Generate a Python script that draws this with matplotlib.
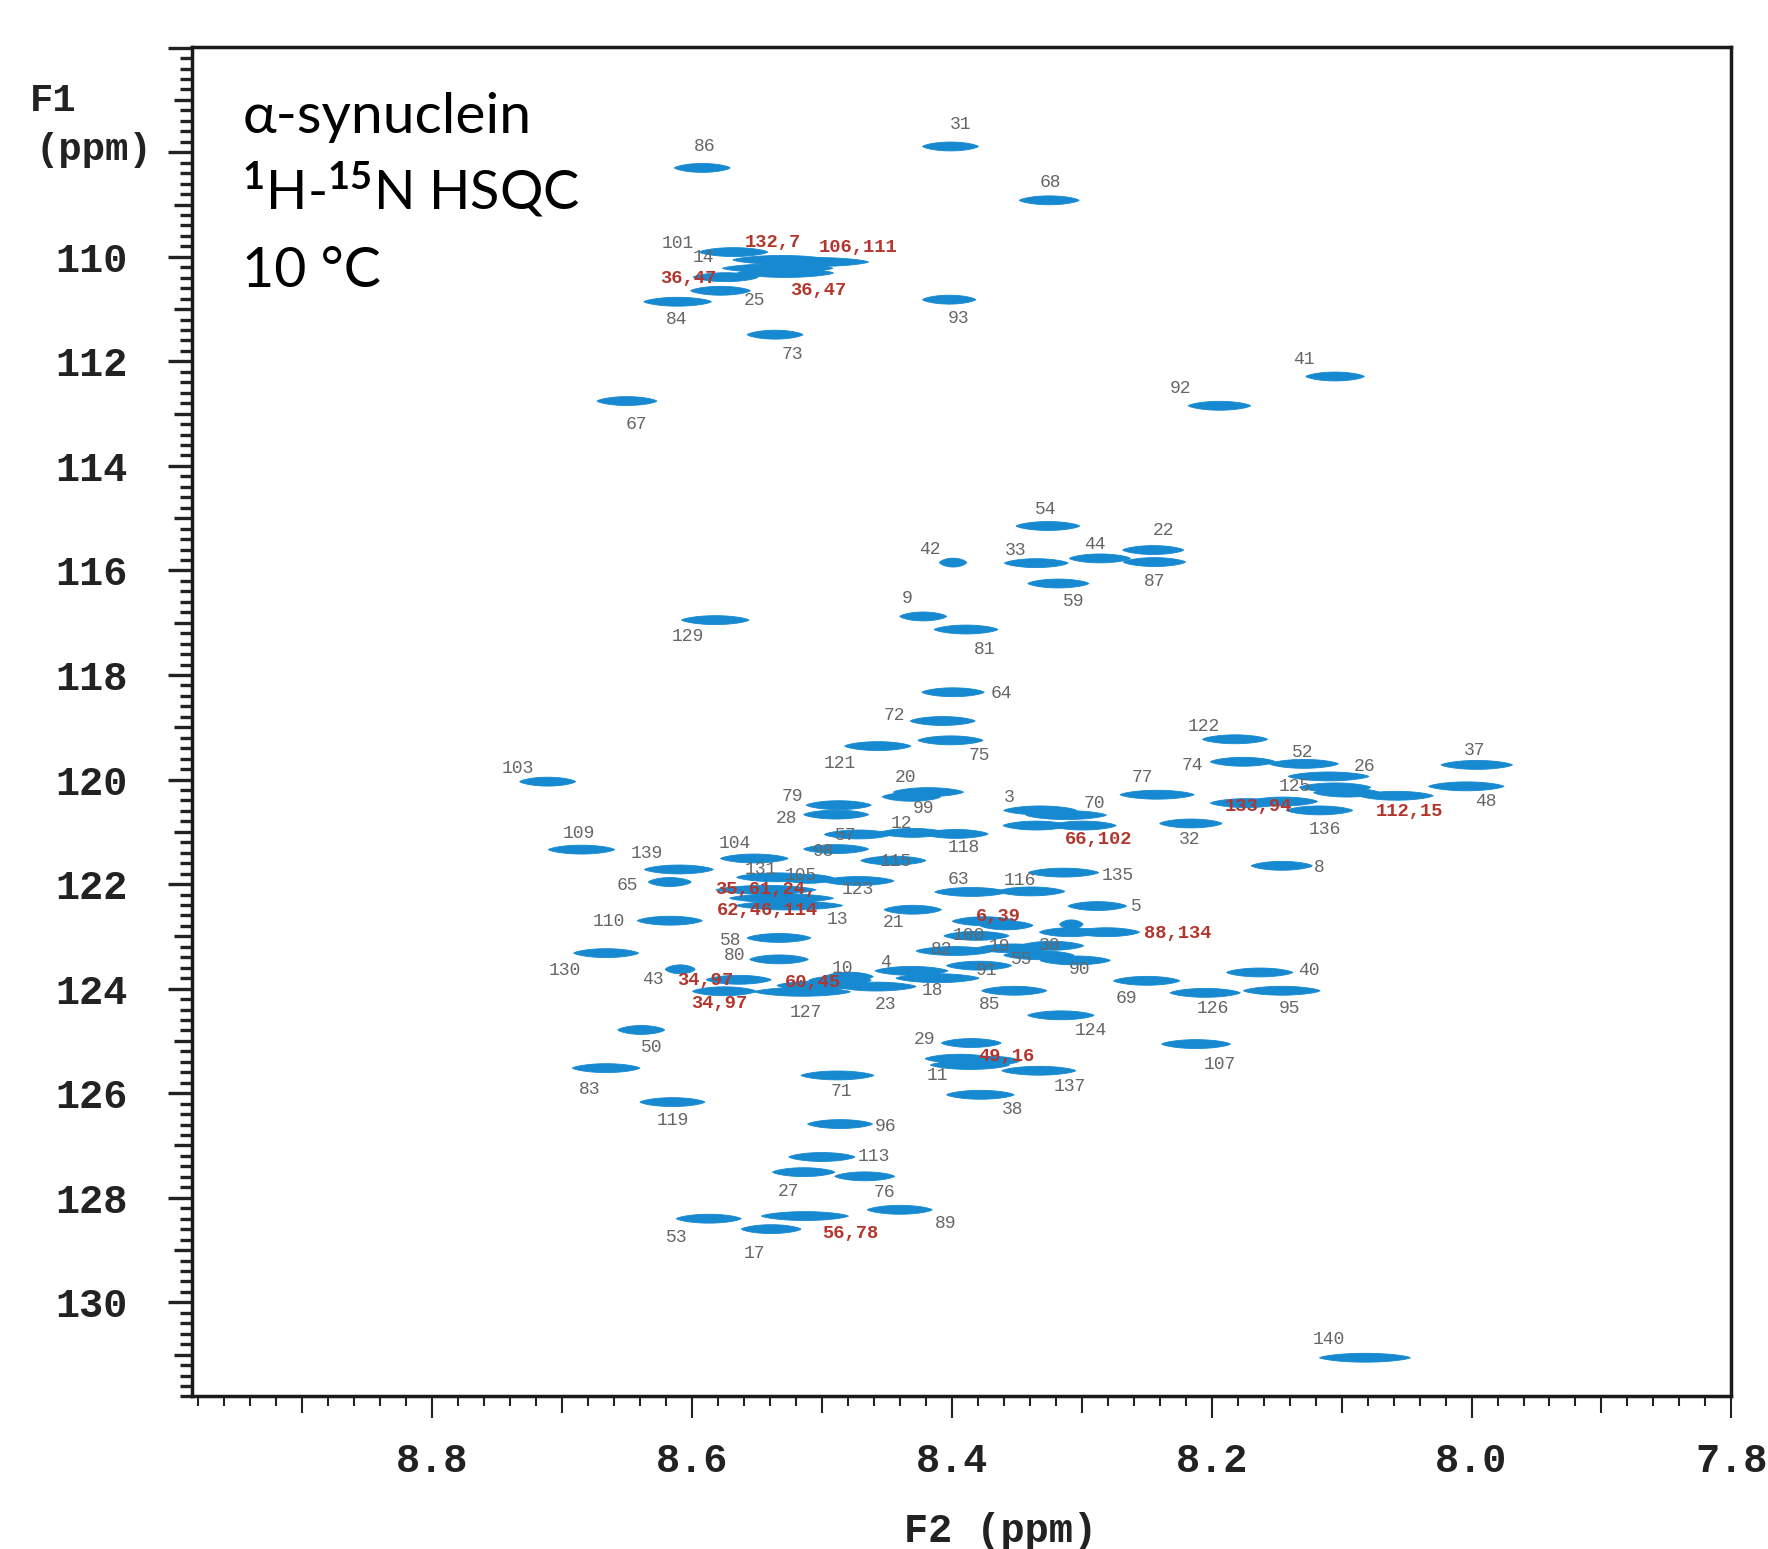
import numpy as np
import matplotlib
matplotlib.use('Agg')
import matplotlib.pyplot as plt
from matplotlib.collections import PolyCollection
from matplotlib.ticker import FixedLocator, FixedFormatter, NullLocator

# ---------------- data: peak positions (1H ppm, 15N ppm) and 1H linewidths (ppm)
peak_h = [8.592, 8.401, 8.325, 8.568, 8.531, 8.504, 8.534, 8.528, 8.574, 8.578,
          8.611, 8.536, 8.402, 8.105, 8.194, 8.650, 8.326, 8.399, 8.335, 8.286,
          8.245, 8.244, 8.318, 8.422, 8.389, 8.582, 8.399, 8.407, 8.401, 8.457,
          8.711, 8.418, 8.431, 8.487, 8.489, 8.472, 8.430, 8.397, 8.489, 8.445,
          8.685, 8.610, 8.617, 8.552, 8.535, 8.510, 8.472, 8.543, 8.531, 8.525,
          8.385, 8.339, 8.314, 8.332, 8.312, 8.335, 8.299, 8.242, 8.216, 8.182,
          8.176, 8.129, 8.110, 8.105, 8.096, 8.058, 8.173, 8.145, 8.117, 8.146,
          7.996, 8.004, 8.288, 8.309, 8.281, 8.308, 8.430, 8.375, 8.358, 8.381,
          8.398, 8.353, 8.323, 8.333, 8.305, 8.379, 8.431, 8.411, 8.479, 8.458,
          8.504, 8.486, 8.515, 8.575, 8.564, 8.609, 8.533, 8.533, 8.617, 8.666,
          8.352, 8.250, 8.205, 8.163, 8.146, 8.316, 8.212, 8.639, 8.385, 8.394,
          8.386, 8.369, 8.333, 8.378, 8.666, 8.615, 8.488, 8.486, 8.500, 8.514,
          8.467, 8.440, 8.513, 8.587, 8.539, 8.082]
peak_n = [108.30, 107.89, 108.92, 109.91, 110.06, 110.10, 110.22, 110.31, 110.39, 110.65,
          110.86, 111.49, 110.82, 112.29, 112.85, 112.76, 115.15, 115.85, 115.86, 115.77,
          115.61, 115.84, 116.25, 116.88, 117.13, 116.95, 118.33, 118.88, 119.25, 119.36,
          120.04, 120.24, 120.33, 120.49, 120.67, 121.05, 121.02, 121.04, 121.33, 121.55,
          121.34, 121.72, 121.96, 121.51, 121.87, 121.90, 121.94, 122.11, 122.27, 122.41,
          122.15, 122.14, 121.78, 120.59, 120.68, 120.88, 120.88, 120.29, 120.84, 119.23,
          119.66, 119.70, 119.94, 120.15, 120.25, 120.31, 120.45, 120.42, 120.59, 121.65,
          119.72, 120.13, 122.42, 122.92, 122.92, 122.77, 122.49, 122.71, 122.79, 122.99,
          123.28, 123.23, 123.18, 123.36, 123.46, 123.56, 123.66, 123.80, 123.77, 123.96,
          123.94, 123.84, 124.06, 124.05, 123.83, 123.63, 123.03, 123.44, 122.70, 123.32,
          124.04, 123.85, 124.08, 123.69, 124.04, 124.51, 125.06, 124.79, 125.04, 125.34,
          125.46, 125.38, 125.57, 126.03, 125.52, 126.17, 125.66, 126.59, 127.22, 127.51,
          127.59, 128.23, 128.35, 128.40, 128.60, 131.06]
peak_lw = [0.043, 0.043, 0.046, 0.053, 0.075, 0.080, 0.085, 0.074, 0.050, 0.046,
           0.052, 0.043, 0.041, 0.045, 0.048, 0.046, 0.049, 0.021, 0.049, 0.047,
           0.047, 0.048, 0.047, 0.036, 0.049, 0.052, 0.048, 0.050, 0.050, 0.051,
           0.043, 0.054, 0.045, 0.050, 0.050, 0.052, 0.052, 0.050, 0.050, 0.050,
           0.051, 0.053, 0.033, 0.052, 0.061, 0.041, 0.055, 0.077, 0.080, 0.082,
           0.056, 0.052, 0.054, 0.056, 0.062, 0.051, 0.051, 0.057, 0.048, 0.050,
           0.050, 0.053, 0.062, 0.055, 0.051, 0.057, 0.056, 0.053, 0.051, 0.047,
           0.055, 0.058, 0.045, 0.047, 0.051, 0.018, 0.044, 0.049, 0.041, 0.050,
           0.059, 0.056, 0.049, 0.054, 0.054, 0.050, 0.056, 0.064, 0.037, 0.061,
           0.061, 0.048, 0.074, 0.049, 0.050, 0.023, 0.049, 0.045, 0.050, 0.050,
           0.050, 0.051, 0.054, 0.051, 0.059, 0.051, 0.053, 0.036, 0.046, 0.053,
           0.061, 0.043, 0.057, 0.052, 0.052, 0.050, 0.056, 0.050, 0.051, 0.048,
           0.046, 0.050, 0.067, 0.050, 0.046, 0.070]

# ---------------- data: residue assignments (text, 1H ppm, 15N ppm); red = overlapped
label_text = ['86', '31', '68', '101', '132,7', '106,111', '14', '36,47', '36,47', '25',
              '84', '73', '93', '41', '92', '67', '54', '42', '33', '44',
              '22', '87', '59', '9', '81', '129', '64', '72', '75', '121',
              '103', '20', '99', '79', '28', '12', '57', '98', '115', '118',
              '109', '139', '65', '104', '131', '105', '123', '35,61,24,', '62,46,114', '13',
              '63', '116', '135', '3', '70', '66,102', '77', '32', '122', '74',
              '52', '26', '125', '112,15', '133,94', '136', '8', '37', '48', '5',
              '88,134', '21', '6,39', '100', '82', '19', '30', '55', '90', '91',
              '4', '18', '10', '23', '60,45', '127', '34,97', '34,97', '43', '58',
              '80', '110', '130', '85', '69', '126', '40', '95', '124', '107',
              '50', '29', '49,16', '11', '137', '38', '83', '119', '71', '96',
              '113', '27', '76', '89', '56,78', '53', '17', '140']
label_h = [8.590, 8.393, 8.324, 8.611, 8.538, 8.472, 8.591, 8.603, 8.503, 8.552,
           8.612, 8.523, 8.395, 8.129, 8.224, 8.643, 8.328, 8.417, 8.351, 8.290,
           8.237, 8.244, 8.306, 8.434, 8.375, 8.603, 8.362, 8.444, 8.379, 8.486,
           8.734, 8.436, 8.422, 8.523, 8.527, 8.439, 8.482, 8.499, 8.443, 8.391,
           8.687, 8.635, 8.650, 8.567, 8.547, 8.516, 8.472, 8.543, 8.542, 8.488,
           8.395, 8.348, 8.272, 8.356, 8.290, 8.287, 8.253, 8.217, 8.206, 8.215,
           8.130, 8.082, 8.136, 8.048, 8.164, 8.113, 8.117, 7.998, 7.989, 8.258,
           8.226, 8.445, 8.364, 8.387, 8.408, 8.363, 8.325, 8.346, 8.302, 8.373,
           8.451, 8.415, 8.484, 8.451, 8.507, 8.512, 8.590, 8.579, 8.630, 8.570,
           8.567, 8.664, 8.698, 8.371, 8.266, 8.199, 8.125, 8.140, 8.293, 8.194,
           8.631, 8.421, 8.358, 8.411, 8.309, 8.353, 8.679, 8.615, 8.485, 8.451,
           8.460, 8.526, 8.452, 8.405, 8.478, 8.612, 8.552, 8.110]
label_n = [107.89, 107.47, 108.58, 109.74, 109.72, 109.83, 110.02, 110.42, 110.64, 110.84,
           111.20, 111.86, 111.18, 111.96, 112.52, 113.21, 114.83, 115.59, 115.62, 115.51,
           115.23, 116.21, 116.59, 116.54, 117.52, 117.27, 118.36, 118.78, 119.54, 119.69,
           119.78, 119.96, 120.56, 120.32, 120.74, 120.84, 121.07, 121.38, 121.57, 121.30,
           121.04, 121.41, 122.03, 121.23, 121.72, 121.83, 122.10, 122.10, 122.51, 122.68,
           121.92, 121.94, 121.84, 120.34, 120.46, 121.14, 119.96, 121.15, 118.98, 119.74,
           119.49, 119.75, 120.14, 120.61, 120.52, 120.95, 121.69, 119.45, 120.42, 122.42,
           122.94, 122.74, 122.62, 122.99, 123.25, 123.19, 123.18, 123.44, 123.64, 123.66,
           123.50, 124.04, 123.61, 124.31, 123.88, 124.46, 123.85, 124.28, 123.82, 123.07,
           123.37, 122.72, 123.65, 124.30, 124.19, 124.37, 123.66, 124.37, 124.80, 125.45,
           125.13, 124.98, 125.29, 125.66, 125.87, 126.31, 125.92, 126.52, 125.97, 126.64,
           127.21, 127.88, 127.90, 128.49, 128.69, 128.76, 129.06, 130.71]
label_red = [',' in t for t in label_text]

x_major = [8.8, 8.6, 8.4, 8.2, 8.0, 7.8]
x_major_labels = ['8.8', '8.6', '8.4', '8.2', '8.0', '7.8']
y_major = [106, 108, 110, 112, 114, 116, 118, 120, 122, 124, 126, 128, 130]
y_major_labels = ['', '', '110', '112', '114', '116', '118', '120', '122', '124',
                  '126', '128', '130']

# ---------------- styling
plt.rcParams['font.family'] = ['Liberation Mono', 'DejaVu Sans']
plt.rcParams['font.weight'] = 'bold'
plt.rcParams['mathtext.fontset'] = 'custom'
plt.rcParams['mathtext.rm'] = 'Lato'
plt.rcParams['mathtext.it'] = 'Lato'
plt.rcParams['mathtext.bf'] = 'Lato'

PEAK = '#1689d0'
GRAY = '#666666'
RED = '#b3352c'
INK = '#222222'
AXFONT = 29

fig = plt.figure(figsize=(17.68, 15.49), dpi=100)
ax = fig.add_axes([0.1084, 0.0985, 0.8709, 0.8714])
ax.set_xlim(8.985, 7.8)
ax.set_ylim(131.8, 105.98)

# peaks as tapered ellipses in data coordinates
u = np.linspace(-1, 1, 61)
half_n = 0.085
polys = []
for h, n, w in zip(peak_h, peak_n, peak_lw):
    prof = half_n * (1 - u ** 2) ** 0.72
    xs = np.concatenate([h + w / 2 * u, h + w / 2 * u[::-1]])
    ys = np.concatenate([n - prof, n + prof[::-1]])
    polys.append(np.column_stack([xs, ys]))
ax.add_collection(PolyCollection(polys, facecolors=PEAK, edgecolors=PEAK,
                                 linewidths=0.6, zorder=2))

for t, h, n, r in zip(label_text, label_h, label_n, label_red):
    ax.text(h, n, t, ha='center', va='center', zorder=3,
            fontfamily='Liberation Mono',
            fontsize=13.5 if r else 13,
            fontweight='bold' if r else 'normal',
            color=RED if r else GRAY)

# ticks
x_medium = [8.9, 8.7, 8.5, 8.3, 8.1, 7.9]
x_minor = [v for v in np.round(np.arange(7.82, 8.985, 0.02), 2)
           if round(v * 100) % 10 != 0]
y_medium = list(range(107, 132, 2))
y_minor = [v for v in np.round(np.arange(106.2, 131.8, 0.2), 1)
           if abs(v - round(v)) > 1e-6]

ax.xaxis.set_major_locator(FixedLocator(x_major))
ax.xaxis.set_major_formatter(FixedFormatter(x_major_labels))
ax.xaxis.set_minor_locator(FixedLocator(x_minor))
ax.yaxis.set_major_locator(FixedLocator(y_major))
ax.yaxis.set_major_formatter(FixedFormatter(y_major_labels))
ax.yaxis.set_minor_locator(FixedLocator(y_minor))

ax.tick_params(axis='x', which='major', direction='out', length=15.8, width=1.5,
               pad=17, labelsize=AXFONT, colors=INK)
ax.tick_params(axis='x', which='minor', direction='out', length=7.2, width=1.5,
               colors=INK)
ax.tick_params(axis='y', which='major', direction='out', length=17.3, width=2.4,
               pad=29, labelsize=AXFONT, colors=INK)
ax.tick_params(axis='y', which='minor', direction='out', length=8.6, width=2.4,
               colors=INK)

secx = ax.secondary_xaxis('bottom')
secx.xaxis.set_major_locator(FixedLocator(x_medium))
secx.xaxis.set_minor_locator(NullLocator())
secx.tick_params(axis='x', which='major', direction='out', length=12.2, width=1.5,
                 labelbottom=False, colors=INK)
for s in secx.spines.values():
    s.set_visible(False)

secy = ax.secondary_yaxis('left')
secy.yaxis.set_major_locator(FixedLocator(y_medium))
secy.yaxis.set_minor_locator(NullLocator())
secy.tick_params(axis='y', which='major', direction='out', length=13.0, width=2.4,
                 labelleft=False, colors=INK)
for s in secy.spines.values():
    s.set_visible(False)

for s in ax.spines.values():
    s.set_linewidth(2.5)
    s.set_color('#1a1a1a')

# axis titles
fig.text(0.030, 0.9345, 'F1', ha='center', va='center', fontsize=AXFONT - 1, color=INK)
fig.text(0.0529, 0.9032, '(ppm)', ha='center', va='center', fontsize=AXFONT - 1, color=INK)
fig.text(0.566, 0.0116, 'F2 (ppm)', ha='center', va='center', fontsize=AXFONT, color=INK)

# sample annotation
tfam = ['Lato', 'DejaVu Sans']
fig.text(0.1371, 0.9141, 'α-synuclein', fontfamily=tfam, fontweight='normal',
         fontsize=41, ha='left', va='baseline', color='black')
fig.text(0.1371, 0.8646, r'$^{\mathrm{1}}$H-$^{\mathrm{15}}$N HSQC', fontfamily=tfam,
         fontweight='normal', fontsize=39, ha='left', va='baseline', color='black')
fig.text(0.1371, 0.8148, '10 °C', fontfamily=tfam, fontweight='normal',
         fontsize=40, ha='left', va='baseline', color='black')

fig.savefig('out.png', dpi=100, facecolor='white')
